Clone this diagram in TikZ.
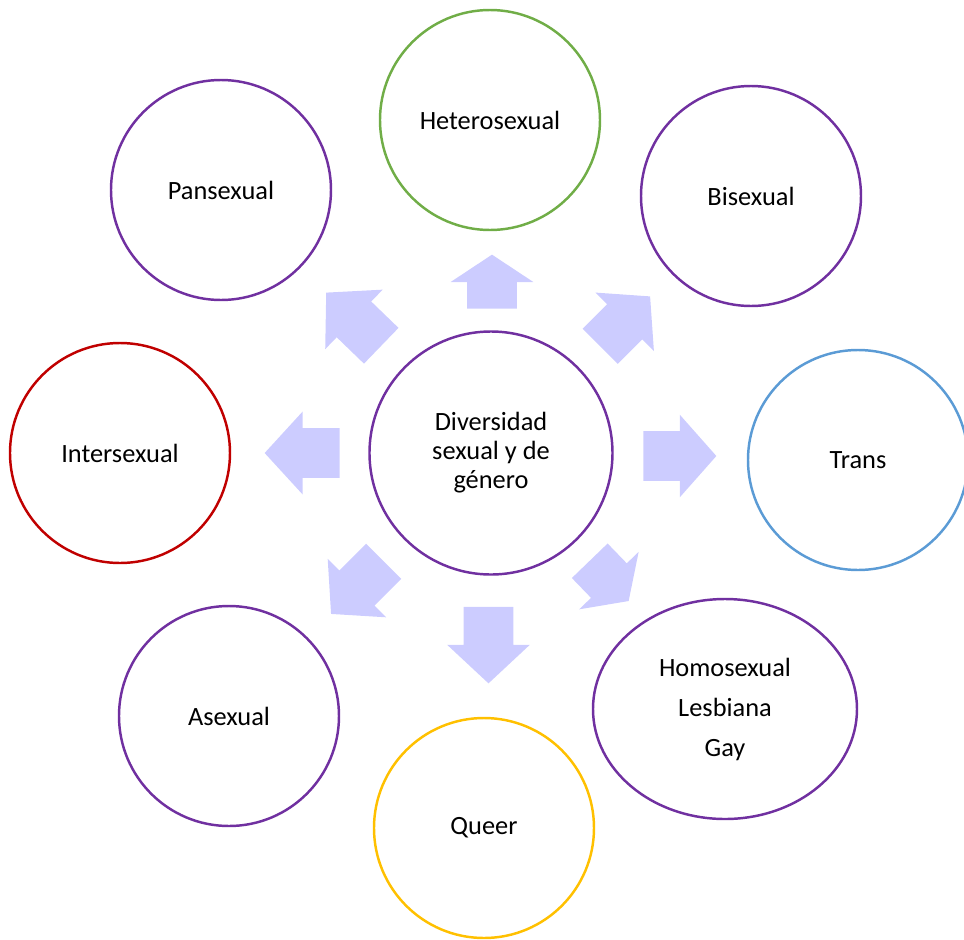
\documentclass[tikz,border=0pt]{standalone}
\usepackage{fontspec}
\setmainfont{Carlito}
\usetikzlibrary{positioning, shapes.arrows, shapes.geometric}
\definecolor{morado}{RGB}{112,48,160}
\definecolor{verde}{RGB}{112,173,71}
\definecolor{azul}{RGB}{91,155,213}
\definecolor{rojo}{RGB}{192,0,0}
\definecolor{amarillo}{RGB}{255,192,0}
\definecolor{lila}{RGB}{204,204,255}
\tikzset{
  burbuja/.style={circle, draw=#1, line width=1.4pt, minimum size=4.4cm, inner sep=0pt, align=center, font=\fontsize{15}{16.5}\selectfont},
  burbuja/.default=morado,
  flecha/.style n args={3}{single arrow, fill=lila, draw=none, inner xsep=0pt, inner ysep=0.49cm, single arrow head extend=0.33cm, anchor=tail, rotate=#1, minimum height=#2, single arrow tip angle=#3},
}

\begin{document}
\begin{tikzpicture}[on grid]
  \useasboundingbox (-9.82,-9.72) rectangle (9.46,9.06);

  \node[burbuja, minimum size=4.86cm] (centro) at (0,0) {Diversidad\\sexual y de\\género};

  \node[burbuja=verde, above left=6.66cm and 0.02cm of centro] (hetero) {Heterosexual};
  \node[burbuja, above right=5.14cm and 5.20cm of centro] (bi) {Bisexual};
  \node[burbuja=azul, below right=0.14cm and 7.34cm of centro] (trans) {Trans};
  \node[ellipse, draw=morado, line width=1.4pt, minimum width=5.28cm, minimum height=4.4cm, inner sep=0pt, align=center, font=\fontsize{15}{16.5}\selectfont,
        below right=5.12cm and 4.68cm of centro] (homo) {Homosexual\\[0.22cm]Lesbiana\\[0.22cm]Gay};
  \node[burbuja=amarillo, below left=7.50cm and 0.14cm of centro] (queer) {Queer};
  \node[burbuja, below left=5.26cm and 5.24cm of centro] (ase) {Asexual};
  \node[burbuja=rojo, left=7.42cm of centro] (inter) {Intersexual};
  \node[burbuja, above left=5.26cm and 5.40cm of centro] (pan) {Pansexual};

  % flechas
  \node[flecha={90}{1.08cm}{113}] (f1) at (0.02,2.88) {};
  \node[flecha={45}{1.41cm}{98}] (f2) at (2.18,2.13) {};
  \node[flecha={0}{1.46cm}{97}] (f3) at (3.04,-0.06) {};
  \node[flecha={-46}{1.12cm}{111}] (f4) at (1.97,-2.15) {};
  \node[flecha={-90}{1.53cm}{94}] (f5) at (-0.05,-3.07) {};
  \node[flecha={225}{1.49cm}{97}] (f6) at (-2.14,-2.16) {};
  \node[flecha={180}{1.50cm}{95}] (f7) at (-3.02,0) {};
  \node[flecha={136}{1.53cm}{94}] (f8) at (-2.19,2.14) {};
\end{tikzpicture}
\end{document}
